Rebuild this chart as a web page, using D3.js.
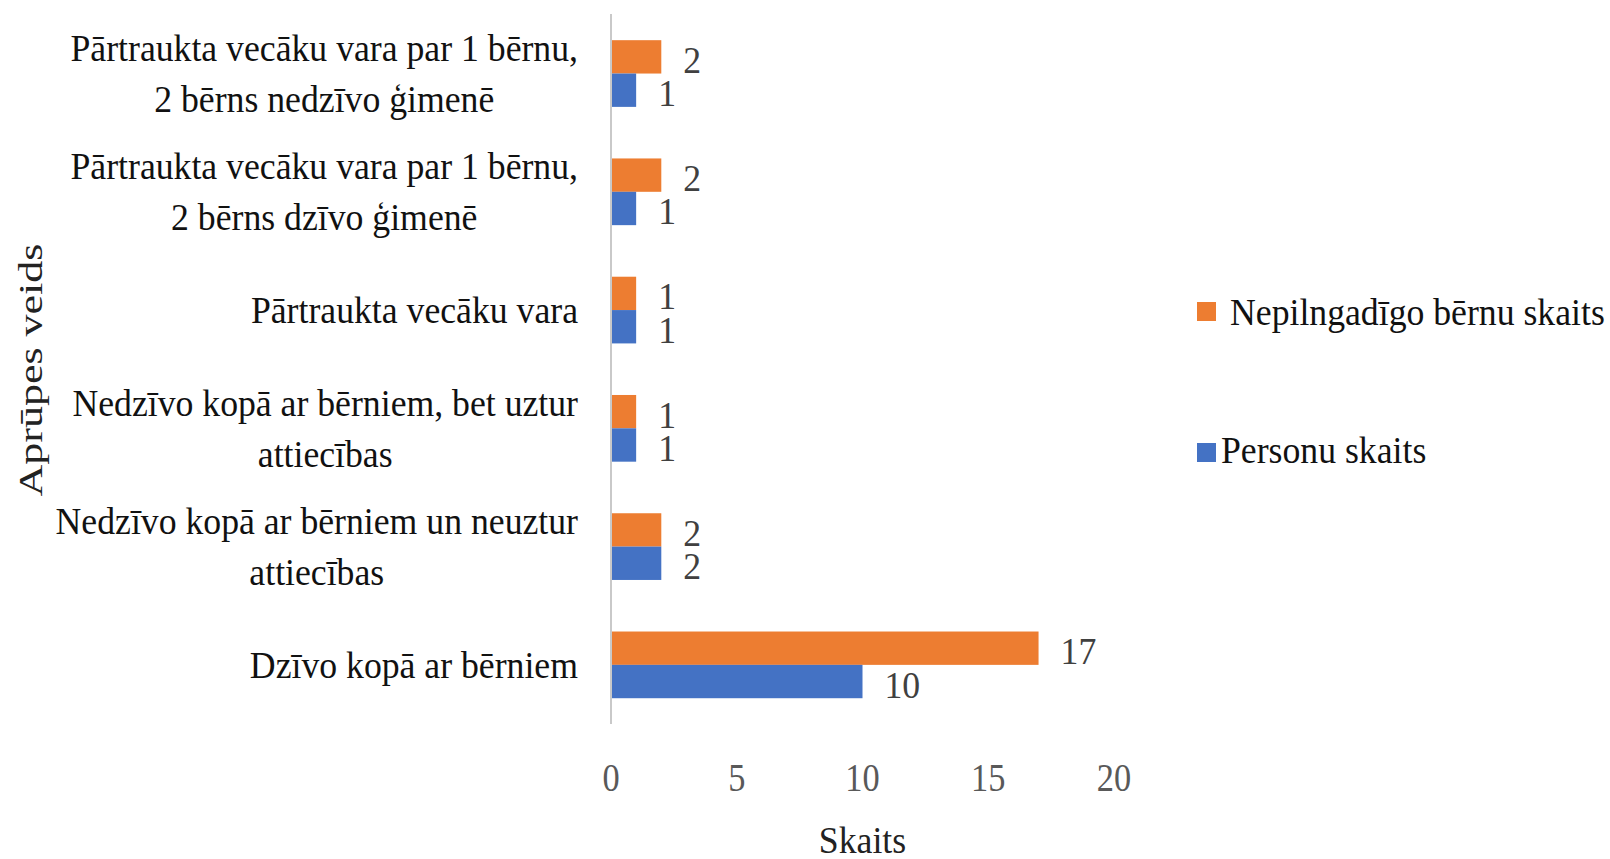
<!DOCTYPE html>
<html>
<head>
<meta charset="utf-8">
<script src="https://cdn.jsdelivr.net/npm/d3@7"></script>
<style>
  body { margin: 0; background: #fff; }
  svg { display: block; }
  text { font-family: "Liberation Serif", "Times New Roman", serif; }
</style>
</head>
<body>
<div id="chart"></div>
<script>
// categories, top to bottom ("\n" marks where the label wraps)
var categories = [
    "Pārtraukta vecāku vara par 1 bērnu,\n2 bērns nedzīvo ģimenē",
    "Pārtraukta vecāku vara par 1 bērnu,\n2 bērns dzīvo ģimenē",
    "Pārtraukta vecāku vara",
    "Nedzīvo kopā ar bērniem, bet uztur\nattiecības",
    "Nedzīvo kopā ar bērniem un neuztur\nattiecības",
    "Dzīvo kopā ar bērniem"
];
var seriesNames = ["Nepilngadīgo bērnu skaits", "Personu skaits"];
var childrenCount = [2, 2, 1, 1, 2, 17];
var personCount = [1, 1, 1, 1, 2, 10];
var xTicks = [0, 5, 10, 15, 20];
var xTitle = "Skaits";
var yTitle = "Aprūpes veids";

var colors = ["#ED7D31", "#4472C4"];
var W = 1610, H = 859;

var svg = d3.select("#chart").append("svg")
    .attr("width", W)
    .attr("height", H);

// plot area
var x = d3.scaleLinear().domain([0, 20]).range([611, 1114]);
var y = d3.scaleBand().domain(categories).range([14.4, 724])
    .paddingInner(0.436).paddingOuter(0.218);
var ySub = d3.scaleBand().domain(seriesNames).range([0, y.bandwidth()]);

var values = [childrenCount, personCount];
var sx = 0.94;

// text that is drawn a little narrow, like in the original
function sText(parent, px, py, str, size, scaleX, anchor, fill) {
    return parent.append("text")
        .attr("transform", "translate(" + px + "," + py + ") scale(" + scaleX + ",1)")
        .attr("font-size", size + "px")
        .attr("text-anchor", anchor)
        .attr("fill", fill)
        .text(str);
}

// bars
values.forEach(function (vals, s) {
    svg.append("g").selectAll("rect")
        .data(vals)
        .enter().append("rect")
        .attr("x", x(0))
        .attr("y", function (d, i) { return y(categories[i]) + ySub(seriesNames[s]); })
        .attr("width", function (d) { return x(d) - x(0); })
        .attr("height", ySub.bandwidth())
        .attr("fill", colors[s]);

    // data labels
    vals.forEach(function (d, i) {
        var cy = y(categories[i]) + ySub(seriesNames[s]) + ySub.bandwidth() / 2;
        sText(svg, x(d) + 22, cy + 16, d, 38, sx, "start", "#404040");
    });
});

// vertical axis line
svg.append("line")
    .attr("x1", x(0)).attr("x2", x(0))
    .attr("y1", 14).attr("y2", 724)
    .attr("stroke", "#c9c9c9")
    .attr("stroke-width", 2);

// category labels - wrapped lines are centred under each other, block right aligned
var labelRight = 578;
categories.forEach(function (c) {
    var lines = c.split("\n");
    var cy = y(c) + y.bandwidth() / 2;
    var lineH = 51;
    var first = lines.length === 1 ? cy + 13 : cy - 12.5;
    if (lines.length === 1) {
        sText(svg, labelRight, first, lines[0], 38, sx, "end", "#111");
        return;
    }
    var tmp = lines.map(function (ln) {
        return sText(svg, 0, -100, ln, 38, sx, "start", "#111");
    });
    var maxW = d3.max(tmp, function (t) { return t.node().getComputedTextLength() * sx; });
    tmp.forEach(function (t) { t.remove(); });
    lines.forEach(function (ln, k) {
        sText(svg, labelRight - maxW / 2, first + k * lineH, ln, 38, sx, "middle", "#111");
    });
});

// x tick labels
xTicks.forEach(function (t) {
    sText(svg, x(t), 791, t, 40, 0.86, "middle", "#595959");
});

// axis titles
sText(svg, (x(0) + x(20)) / 2, 853, xTitle, 38, sx, "middle", "#222");

svg.append("text")
    .attr("transform", "translate(42,370) rotate(-90) scale(1,0.78)")
    .attr("font-size", "44px")
    .attr("text-anchor", "middle")
    .attr("fill", "#222")
    .text(yTitle);

// legend
var legendY = [302, 443];
var legendTextX = [1230, 1221];
var legendBase = [325, 463];
seriesNames.forEach(function (name, s) {
    svg.append("rect")
        .attr("x", 1197).attr("y", legendY[s])
        .attr("width", 19).attr("height", 19)
        .attr("fill", colors[s]);
    sText(svg, legendTextX[s], legendBase[s], name, 38, sx, "start", "#111");
});
</script>
</body>
</html>
